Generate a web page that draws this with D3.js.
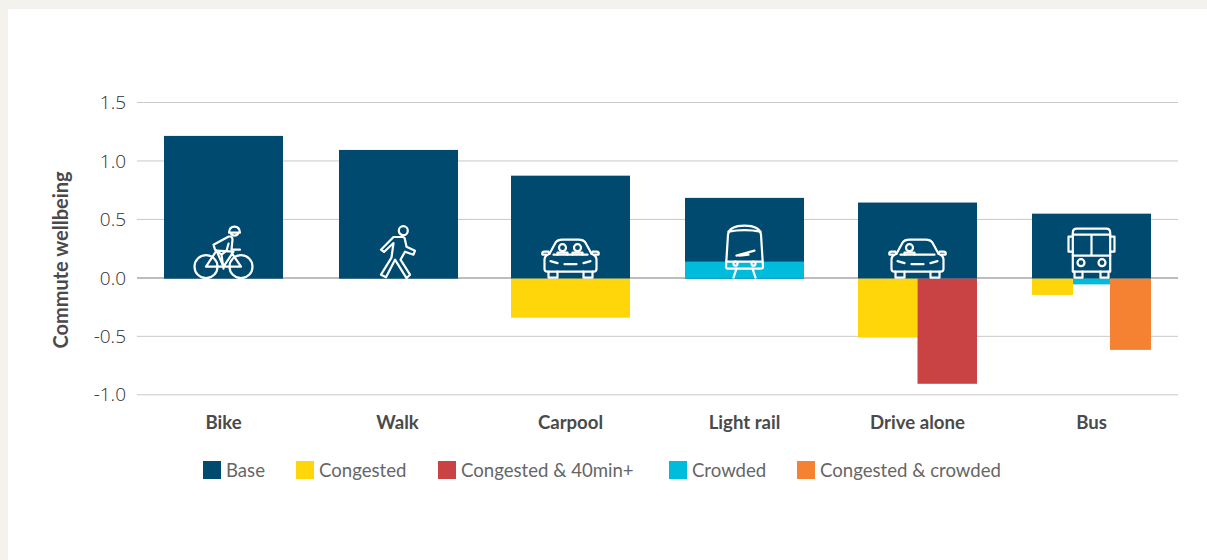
<!DOCTYPE html>
<html>
<head>
<meta charset="utf-8">
<script src="https://cdn.jsdelivr.net/npm/d3@7/dist/d3.min.js"></script>
<style>
  html, body { margin: 0; padding: 0; background: #f3f2ec; overflow: hidden; }
  text { font-family: Lato, "Open Sans", sans-serif; }
</style>
</head>
<body>
<svg id="chart" width="1207" height="560"></svg>
<script>
// Commute wellbeing by mode, split into base and stressor effects
const modes = ["Bike", "Walk", "Carpool", "Light rail", "Drive alone", "Bus"];
const baseValues = [1.21, 1.09, 0.87, 0.68, 0.64, 0.545];
const carpoolStress = [-0.345];
const lightRailStress = [0.135];
const driveAloneStress = [-0.515, -0.91];
const busStress = [-0.15, -0.06, -0.62];
const yTicks = [1.5, 1.0, 0.5, 0.0, -0.5, -1.0];
const legendNames = ["Base", "Congested", "Congested & 40min+", "Crowded", "Congested & crowded"];
const legendColors = ["#004a70", "#ffd60a", "#c94344", "#00bcdc", "#f58233"];

const colorOf = d3.scaleOrdinal().domain(legendNames).range(legendColors);

const svg = d3.select("#chart");
svg.append("rect").attr("x", 8).attr("y", 9).attr("width", 1199).attr("height", 551).attr("fill", "#fff");

// Mode centres along the horizontal axis
const xCentre = d3.scaleOrdinal().domain(modes).range([223.5, 398.5, 570.5, 744.5, 917.5, 1091.5]);
const barWidth = 119;
const y = d3.scaleLinear().domain([-1, 1.5]).range([394.3, 102]);
// Bars hang from a baseline just below the zero gridline
const baseline = y(0) + 1.3;

// Gridlines and tick labels
const yAxis = d3.axisLeft(y).tickValues(yTicks).tickSize(0).tickPadding(11)
  .tickFormat(d => d3.format(".1f")(d).replace("\u2212", "-"));
const yG = svg.append("g").attr("transform", "translate(137,0)").call(yAxis);
yG.select(".domain").remove();
yG.selectAll("text")
  .style("font-family", "'Open Sans', sans-serif")
  .attr("font-size", 19).attr("font-weight", 300).attr("fill", "#2e2e2e").attr("dy", "0.35em");
yG.selectAll(".tick line")
  .attr("x1", 0).attr("x2", 1041)
  .attr("stroke", d => d === 0 ? "#bdbdbd" : "#c9c9c9")
  .attr("stroke-width", d => d === 0 ? 2 : 1);

svg.append("text")
  .attr("transform", "translate(67.5,260) rotate(-90)")
  .attr("text-anchor", "middle")
  .attr("font-size", 20).attr("font-weight", 700).attr("fill", "#4a4a4a")
  .text("Commute wellbeing");

// Base bars
svg.append("g").selectAll("rect").data(modes).join("rect")
  .attr("x", d => xCentre(d) - barWidth / 2)
  .attr("width", barWidth)
  .attr("y", (d, i) => y(baseValues[i]))
  .attr("height", (d, i) => baseline - y(baseValues[i]))
  .attr("fill", colorOf("Base"));

// Stressor segments: each mode divides its band among the stressors it has
const stressRows = [
  { mode: "Carpool", names: ["Congested"], values: carpoolStress, shares: [1] },
  { mode: "Light rail", names: ["Crowded"], values: lightRailStress, shares: [1] },
  { mode: "Drive alone", names: ["Congested", "Congested & 40min+"], values: driveAloneStress, shares: [0.5, 0.5] },
  { mode: "Bus", names: ["Congested", "Crowded", "Congested & crowded"], values: busStress, shares: [0.345, 0.31, 0.345] }
];
const stressG = svg.append("g");
stressRows.forEach(row => {
  let offset = xCentre(row.mode) - barWidth / 2;
  row.values.forEach((v, i) => {
    const w = barWidth * row.shares[i];
    stressG.append("rect")
      .attr("x", offset)
      .attr("width", w)
      .attr("y", Math.min(baseline, y(v)))
      .attr("height", Math.abs(y(v) - baseline))
      .attr("fill", colorOf(row.names[i]));
    offset += w;
  });
});

// Category labels
const labelNudge = { Walk: -1 };
svg.append("g").selectAll("text").data(modes).join("text")
  .attr("x", d => xCentre(d) + (labelNudge[d] || 0))
  .attr("y", 428.5)
  .attr("text-anchor", "middle")
  .attr("font-size", 18.6).attr("font-weight", 700).attr("fill", "#4a4a4a")
  .text(d => d);

// Line-drawn mode icons, each sitting on the bar baseline
const iconG = svg.append("g")
  .attr("fill", "none").attr("stroke", "#fff").attr("stroke-width", 2.2)
  .attr("stroke-linecap", "round").attr("stroke-linejoin", "round");

const icon = mode => iconG.append("g").attr("transform", `translate(${xCentre(mode)},${baseline})`);

function drawBike(g) {
  g.append("circle").attr("cx", -17.5).attr("cy", -12).attr("r", 11.5);
  g.append("circle").attr("cx", 17.5).attr("cy", -12).attr("r", 11.5);
  g.append("path").attr("d", "M5.5,-46 Q6,-52 11,-52 Q16,-52 16.5,-46 Z M7,-46 Q8,-43 11,-43 Q14,-43 15,-46");
  g.append("path").attr("d", "M-17.5,-12 H0 L17.5,-12 L8,-26 M-17.5,-12 L-7,-28 L0,-12 M-7,-28 L10,-27 L0,-12");
  g.append("path").attr("d", "M-8.5,-29 L-10,-34 L4.8,-42 Q9,-43 9,-39 L8,-29 L16.5,-29 M-8.5,-29 L-2,-24 L0,-10 M5,-35 L3,-28 L-2,-24");
}
function drawWalker(g) {
  g.append("circle").attr("cx", 4.8).attr("cy", -48).attr("r", 4.5);
  g.append("path").attr("d", "M-5,-41.7 H4 Q6.5,-41.7 6.5,-39 L8,-32 L16.5,-28 L15,-24 L6.5,-27 L2,-19 L11.5,-4 L8,-0.5 L-3.5,-19 L-12.5,-1.5 L-17.5,-4 L-7,-21 L-5,-35.7 L-14.5,-26.7 L-17.5,-29 Z");
}
function drawCar(g, occupants) {
  g.append("path").attr("d", "M-26,-10 V-19 Q-26,-23 -21,-25 L-15,-36 Q-13,-39 -8,-39 H8 Q13,-39 15,-36 L21,-25 Q26,-23 26,-19 V-10 Q26,-7 23,-7 H-23 Q-26,-7 -26,-10 Z");
  g.append("path").attr("d", "M-22,-7 V-1 H-13 V-7 M13,-7 V-1 H22 V-7 M-21,-25 L-22,-27 H-26 Q-29,-27 -28,-24 H-24 M21,-25 L22,-27 H26 Q29,-27 28,-24 H24");
  g.append("path").attr("d", "M-17,-24 H17 M-6,-14.5 H6 M-20,-17.5 L-13,-15.5 M20,-17.5 L13,-15.5");
  occupants.forEach(cx => {
    g.append("circle").attr("cx", cx).attr("cy", -31).attr("r", 3.5);
    g.append("path").attr("d", `M${cx - 5},-24 V-26 H${cx + 5} V-24`);
  });
}
function drawTram(g) {
  g.append("path").attr("d", "M-18.5,-12 L-16.5,-44 Q-15,-53 0,-53 Q15,-53 16.5,-44 L18.5,-12 Q18.5,-10 16,-10 H-16 Q-18.5,-10 -18.5,-12 Z");
  g.append("path").attr("d", "M-16,-47 Q0,-50 16,-47 M-18,-17 H18 M-8,-23 L10,-28 M-5,-23 L4,-24 M-8,-10 L-11,-1 M8,-10 L11,-1");
  g.append("circle").attr("cx", -9).attr("cy", -15).attr("r", 2);
  g.append("circle").attr("cx", 9).attr("cy", -15).attr("r", 2);
}
function drawBus(g) {
  g.append("path").attr("d", "M-18.7,-7 V-46 Q-18.7,-50 -14.7,-50 H14.7 Q18.7,-50 18.7,-46 V-7 Z");
  g.append("path").attr("d", "M-18.7,-44 H18.7 M-18.7,-23 H18.7 M0,-44 V-23 M-18.7,-42 H-23 V-27 H-18.7 M18.7,-42 H23 V-27 H18.7 M-17,-7 V-1 H-9 V-7 M9,-7 V-1 H17 V-7");
  g.append("circle").attr("cx", -10.5).attr("cy", -16).attr("r", 3.5);
  g.append("circle").attr("cx", 10.5).attr("cy", -16).attr("r", 3.5);
}
drawBike(icon("Bike"));
drawWalker(icon("Walk"));
drawCar(icon("Carpool"), [-8, 7]);
drawTram(icon("Light rail"));
drawCar(icon("Drive alone"), [-8]);
drawBus(icon("Bus"));

// Legend
const legendX = d3.scaleOrdinal().domain(legendNames).range([203, 296, 438, 669, 797]);
const legend = svg.append("g").selectAll("g").data(legendNames).join("g")
  .attr("transform", d => `translate(${legendX(d)},461)`);
legend.append("rect").attr("width", 18).attr("height", 18).attr("fill", d => colorOf(d));
legend.append("text")
  .attr("x", 23).attr("y", 16)
  .attr("font-size", 18.6).attr("fill", "#666")
  .text(d => d);
</script>
</body>
</html>
